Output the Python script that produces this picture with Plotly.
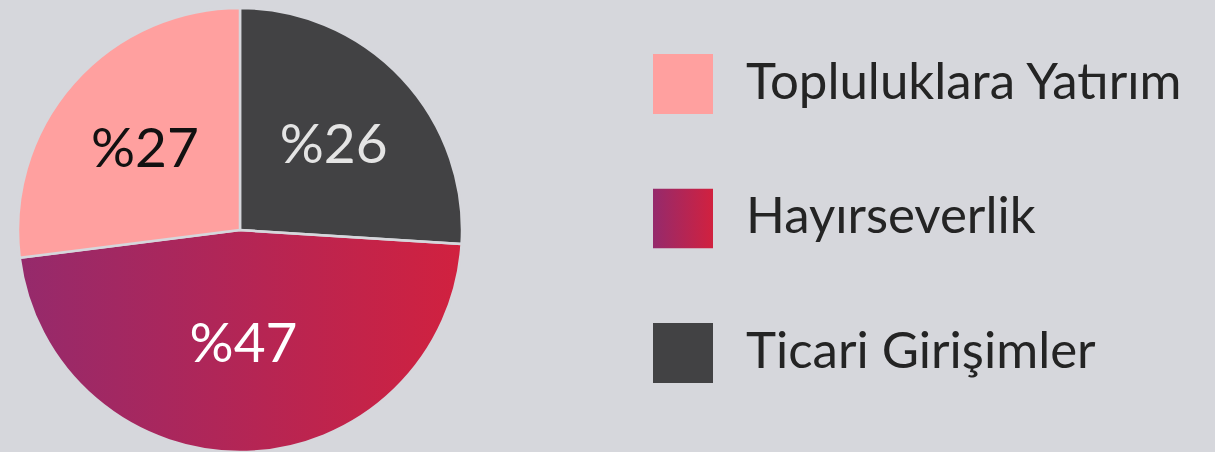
import base64
import plotly.graph_objects as go

# ---- data ----
labels = ["Topluluklara Yatırım", "Hayırseverlik", "Ticari Girişimler"]
values = [27, 47, 26]
slice_texts = ["%27", "%47", "%26"]

# ---- style ----
W, H = 1215, 452
BG = "#d6d7dc"
PINK = "#ffa09f"
DARK = "#424244"
GRAD_L = "#952a6c"
GRAD_R = "#d1213f"
slice_colors = [PINK, "rgba(0,0,0,0)", DARK]   # middle slice shows gradient image beneath
text_colors = ["#111111", "#ffffff", "#e4e4e4"]
FONT = "Lato"

# pie box in pixels
PX0, PX1, PY0, PY1 = 17, 463, 8, 452
pw, ph = PX1 - PX0, PY1 - PY0
r = min(pw, ph) / 2


def svg_uri(svg):
    return "data:image/svg+xml;base64," + base64.b64encode(svg.encode()).decode()


grad_def = (f'<defs><linearGradient id="g" x1="0" y1="0" x2="1" y2="0">'
            f'<stop offset="0" stop-color="{GRAD_L}"/><stop offset="1" stop-color="{GRAD_R}"/>'
            f'</linearGradient></defs>')
circle_svg = (f'<svg xmlns="http://www.w3.org/2000/svg" width="{pw}" height="{ph}" viewBox="0 0 {pw} {ph}">'
              f'{grad_def}<circle cx="{pw/2}" cy="{ph/2}" r="{r}" fill="url(#g)"/></svg>')
square_svg = (f'<svg xmlns="http://www.w3.org/2000/svg" width="60" height="60" viewBox="0 0 60 60">'
              f'{grad_def}<rect x="0" y="0" width="60" height="60" fill="url(#g)"/></svg>')

# pie drawn clockwise from 12 o'clock in reverse legend order
order = [2, 1, 0]
fig = go.Figure(go.Pie(
    labels=[labels[i] for i in order],
    values=[values[i] for i in order],
    text=[slice_texts[i] for i in order],
    textinfo="text",
    textposition="inside",
    insidetextorientation="horizontal",
    sort=False,
    direction="clockwise",
    rotation=0,
    marker=dict(colors=[slice_colors[i] for i in order], line=dict(color=BG, width=2.5)),
    insidetextfont=dict(family=FONT, size=55, color=[text_colors[i] for i in order]),
    hoverinfo="skip",
    showlegend=False,
    domain=dict(x=[PX0 / W, PX1 / W], y=[1 - PY1 / H, 1 - PY0 / H]),
))

images = [dict(source=svg_uri(circle_svg), xref="paper", yref="paper",
               x=PX0 / W, y=1 - PY0 / H, sizex=pw / W, sizey=ph / H,
               xanchor="left", yanchor="top", sizing="stretch", layer="below")]

# custom legend with large swatches
LEG_X0, SW, TEXT_X = 653, 60, 744
leg_centers = [84, 218.5, 353]
shapes, annotations = [], []
for i, (lab, col) in enumerate(zip(labels, [PINK, None, DARK])):
    cy = leg_centers[i]
    if col is None:
        images.append(dict(source=svg_uri(square_svg), xref="paper", yref="paper",
                           x=LEG_X0 / W, y=1 - (cy - SW / 2) / H, sizex=SW / W, sizey=SW / H,
                           xanchor="left", yanchor="top", sizing="stretch", layer="above"))
    else:
        shapes.append(dict(type="rect", xref="paper", yref="paper",
                           x0=LEG_X0 / W, x1=(LEG_X0 + SW) / W,
                           y0=1 - (cy + SW / 2) / H, y1=1 - (cy - SW / 2) / H,
                           fillcolor=col, line=dict(width=0)))
    annotations.append(dict(text=lab, xref="paper", yref="paper",
                            x=TEXT_X / W, y=1 - (cy - 5) / H, xanchor="left", yanchor="middle",
                            showarrow=False, font=dict(family=FONT, size=51, color="#242424")))

fig.update_layout(
    width=W, height=H,
    margin=dict(l=0, r=0, t=0, b=0),
    paper_bgcolor=BG, plot_bgcolor=BG,
    images=images, shapes=shapes, annotations=annotations,
    showlegend=False,
)

fig.write_html(
    "out.html",
    config=dict(displayModeBar=False),
    post_script=f"document.body.style.margin='0';document.body.style.background='{BG}';",
)
